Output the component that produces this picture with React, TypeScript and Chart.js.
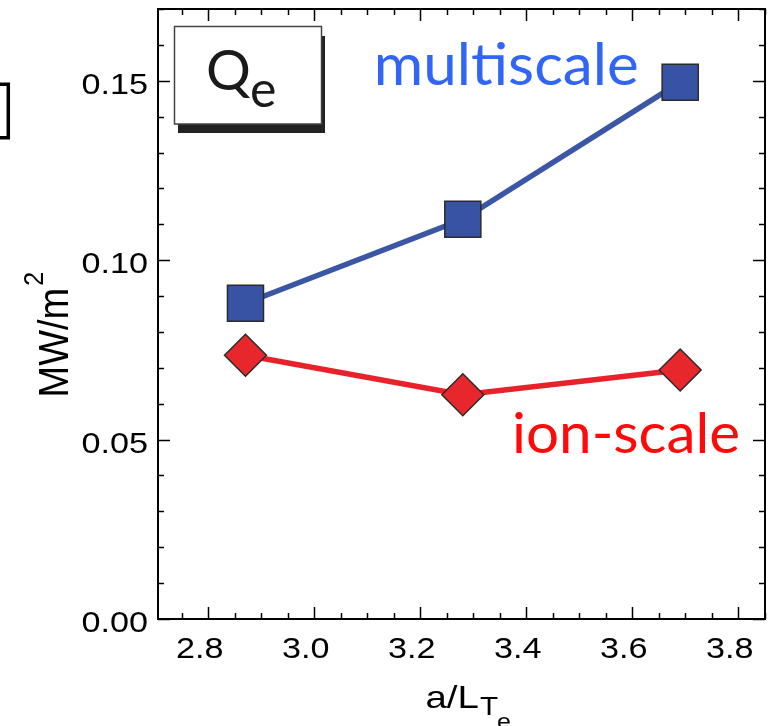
import React, { useEffect, useRef } from "react";
import { Chart, registerables } from "chart.js";

Chart.register(...registerables);

// Normalized electron temperature gradient a/L_Te for the three runs
const gradientValues = [2.87, 3.28, 3.69];
// Electron heat flux Q_e (MW/m^2)
const multiscaleQe = [0.088, 0.1114, 0.1496];
const ionScaleQe = [0.0735, 0.0625, 0.0694];

const xTickValues = [2.8, 3.0, 3.2, 3.4, 3.6, 3.8];
const xTickLabels = ["2.8", "3.0", "3.2", "3.4", "3.6", "3.8"];
const yTickValues = [0, 0.05, 0.1, 0.15];
const yTickLabels = ["0.00", "0.05", "0.10", "0.15"];
const xMinorStep = 0.05;
const yMinorStep = 0.01;

const X_MIN = 2.705;
const X_MAX = 3.85;
const Y_MIN = 0;
const Y_MAX = 0.17;

const AXIS_FONT = "Liberation Sans, Arial, Helvetica, sans-serif";
const NOTE_FONT = "Lato, 'Open Sans', sans-serif";
const STRETCH = 1.14;

function stretchedText(
  ctx: CanvasRenderingContext2D,
  text: string,
  x: number,
  y: number,
  font: string,
  align: CanvasTextAlign,
  sx: number
): number {
  ctx.save();
  ctx.translate(x, y);
  ctx.scale(sx, 1);
  ctx.font = font;
  ctx.textAlign = align;
  ctx.textBaseline = "alphabetic";
  ctx.fillText(text, 0, 0);
  const w = ctx.measureText(text).width * sx;
  ctx.restore();
  return w;
}

function fittedText(
  ctx: CanvasRenderingContext2D,
  text: string,
  x: number,
  y: number,
  font: string,
  width: number,
  color: string
) {
  ctx.save();
  ctx.font = font;
  ctx.fillStyle = color;
  ctx.textAlign = "left";
  ctx.textBaseline = "alphabetic";
  const m = ctx.measureText(text);
  const glyphWidth = m.actualBoundingBoxRight + m.actualBoundingBoxLeft;
  const sx = width / glyphWidth;
  ctx.translate(x, y);
  ctx.scale(sx, 1);
  ctx.fillText(text, m.actualBoundingBoxLeft, 0);
  ctx.restore();
}

function isMajor(v: number, majors: number[]) {
  return majors.some((m) => Math.abs(m - v) < 1e-6);
}

const framePlugin = {
  id: "frameAndNotes",
  afterDraw(chart: any) {
    const ctx: CanvasRenderingContext2D = chart.ctx;
    const { left, right, top, bottom } = chart.chartArea;
    const xs = chart.scales.x;
    const ys = chart.scales.y;

    ctx.save();
    ctx.strokeStyle = "#000";
    ctx.fillStyle = "#000";

    // plot frame
    ctx.lineWidth = 2;
    ctx.strokeRect(left, top, right - left, bottom - top);

    // inward ticks on all four sides
    ctx.lineWidth = 1.5;
    ctx.beginPath();
    const xFirst = Math.ceil(X_MIN / xMinorStep - 1e-6);
    const xLast = Math.floor(X_MAX / xMinorStep + 1e-6);
    for (let i = xFirst; i <= xLast; i++) {
      const v = i * xMinorStep;
      const len = isMajor(v, xTickValues) ? 12 : 6;
      const px = Math.round(xs.getPixelForValue(v)) + 0.5;
      ctx.moveTo(px, bottom);
      ctx.lineTo(px, bottom - len);
      ctx.moveTo(px, top);
      ctx.lineTo(px, top + len);
    }
    const yFirst = Math.ceil(Y_MIN / yMinorStep - 1e-6);
    const yLast = Math.floor(Y_MAX / yMinorStep + 1e-6);
    for (let i = yFirst; i <= yLast; i++) {
      const v = i * yMinorStep;
      const len = isMajor(v, yTickValues) ? 12 : 6;
      const py = Math.round(ys.getPixelForValue(v)) + 0.5;
      ctx.moveTo(left, py);
      ctx.lineTo(left + len, py);
      ctx.moveTo(right, py);
      ctx.lineTo(right - len, py);
    }
    ctx.stroke();

    // tick labels
    const tickFont = `30px ${AXIS_FONT}`;
    xTickValues.forEach((v, i) => {
      const px = xs.getPixelForValue(v);
      stretchedText(ctx, xTickLabels[i], px - 8.7, 658.3, tickFont, "center", STRETCH);
    });
    yTickValues.forEach((v, i) => {
      const py = ys.getPixelForValue(v);
      stretchedText(ctx, yTickLabels[i], 148, py + 13.3, tickFont, "right", STRETCH);
    });

    // y title: MW/m^2
    ctx.save();
    ctx.translate(68, 397.5);
    ctx.scale(STRETCH, 1);
    ctx.rotate(-Math.PI / 2);
    ctx.font = `38px ${AXIS_FONT}`;
    ctx.textAlign = "left";
    ctx.textBaseline = "alphabetic";
    ctx.fillText("MW/m", 0, 0);
    const w = ctx.measureText("MW/m").width;
    ctx.font = `25px ${AXIS_FONT}`;
    ctx.fillText("2", w + 2, -22);
    ctx.restore();

    // x title: a/L_{T_e}
    const mainW = stretchedText(ctx, "a/L", 425.5, 708, `32px ${AXIS_FONT}`, "left", 1.2);
    const tx = 425.5 + mainW + 1;
    const tW = stretchedText(ctx, "T", tx, 715, `26px ${AXIS_FONT}`, "left", STRETCH);
    stretchedText(ctx, "e", tx + tW - 1, 729, `22px ${AXIS_FONT}`, "left", STRETCH);

    // Q_e label box with drop shadow
    ctx.fillStyle = "#222";
    ctx.fillRect(178, 36, 147, 97);
    ctx.fillStyle = "#fff";
    ctx.fillRect(174.5, 26.5, 147, 97.5);
    ctx.strokeStyle = "#444";
    ctx.lineWidth = 1.5;
    ctx.strokeRect(174.5, 26.5, 147, 97.5);
    ctx.fillStyle = "#1a1a1a";
    ctx.font = `56px ${NOTE_FONT}`;
    ctx.textAlign = "left";
    ctx.textBaseline = "alphabetic";
    ctx.fillText("Q", 206, 90);
    ctx.font = `50px ${NOTE_FONT}`;
    ctx.fillText("e", 250, 107);

    // series annotations
    fittedText(ctx, "multiscale", 378, 85, `58px ${NOTE_FONT}`, 259, "#3165f5");
    fittedText(ctx, "ion-scale", 515, 453, `57px ${NOTE_FONT}`, 223, "#ff0a0a");

    // edge of the neighbouring frame
    ctx.strokeStyle = "#000";
    ctx.lineWidth = 3.5;
    ctx.beginPath();
    ctx.moveTo(0, 84.3);
    ctx.lineTo(8.3, 84.3);
    ctx.lineTo(8.3, 137.7);
    ctx.lineTo(0, 137.7);
    ctx.stroke();

    ctx.restore();
  },
};

export default function App() {
  const canvasRef = useRef<HTMLCanvasElement | null>(null);

  useEffect(() => {
    const canvas = canvasRef.current;
    if (!canvas) return;
    const chart = new Chart(canvas, {
      type: "line",
      data: {
        datasets: [
          {
            label: "multiscale",
            data: gradientValues.map((x, i) => ({ x, y: multiscaleQe[i] })),
            borderColor: "#3c56a6",
            borderWidth: 5.5,
            backgroundColor: "#3953a4",
            pointStyle: "rect",
            pointRadius: 25.5,
            pointBackgroundColor: "#3953a4",
            pointBorderColor: "#2b2b2b",
            pointBorderWidth: 1.5,
            tension: 0,
            clip: false,
          },
          {
            label: "ion-scale",
            data: gradientValues.map((x, i) => ({ x, y: ionScaleQe[i] })),
            borderColor: "#e8222a",
            borderWidth: 5.5,
            backgroundColor: "#e8272d",
            pointStyle: "rectRot",
            pointRadius: 21,
            pointBackgroundColor: "#e8272d",
            pointBorderColor: "#2b2b2b",
            pointBorderWidth: 1.5,
            tension: 0,
            clip: false,
          },
        ],
      },
      options: {
        responsive: false,
        animation: false,
        events: [],
        layout: { autoPadding: false, padding: { left: 0, top: 9, right: 4, bottom: 0 } },
        plugins: {
          legend: { display: false },
          tooltip: { enabled: false },
        },
        scales: {
          x: {
            type: "linear",
            min: X_MIN,
            max: X_MAX,
            ticks: { display: false },
            grid: { display: false },
            border: { display: false },
            afterFit: (s: any) => {
              s.height = 107;
            },
          },
          y: {
            type: "linear",
            min: Y_MIN,
            max: Y_MAX,
            ticks: { display: false },
            grid: { display: false },
            border: { display: false },
            afterFit: (s: any) => {
              s.width = 158;
            },
          },
        },
      },
      plugins: [framePlugin],
    } as any);
    return () => chart.destroy();
  }, []);

  return (
    <div style={{ position: "fixed", left: 0, top: 0, width: 769, height: 726, background: "#fff" }}>
      <canvas ref={canvasRef} width={769} height={726} style={{ display: "block" }} />
    </div>
  );
}
